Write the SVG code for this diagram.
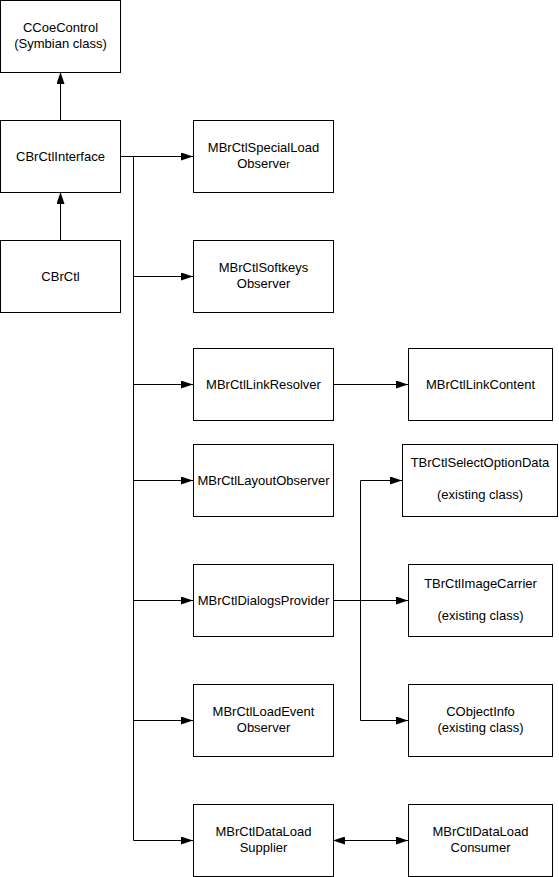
<svg xmlns="http://www.w3.org/2000/svg" width="559" height="877" viewBox="0 0 559 877">
<style>
.box{fill:#fff;stroke:#000;stroke-width:1}
.lbl{font-family:"Liberation Sans",Arial,sans-serif;font-size:13px;fill:#000;text-anchor:middle}
.ln{fill:none;stroke:#000;stroke-width:1}
</style>
<defs>
<marker id="ah" markerUnits="userSpaceOnUse" markerWidth="12" markerHeight="8" refX="12" refY="4" orient="auto-start-reverse">
<path d="M0,0 L12,4 L0,8 z" fill="#000"/>
</marker>
</defs>
<rect width="559" height="877" fill="#fff"/>
<g id="connectors">
<path class="ln" d="M60.5,121 V72" marker-end="url(#ah)"/>
<path class="ln" d="M60.5,241 V192" marker-end="url(#ah)"/>
<path class="ln" d="M120,156.5 H193" marker-end="url(#ah)"/>
<path class="ln" d="M133.5,156.5 V840.5 H193" marker-end="url(#ah)"/>
<path class="ln" d="M133.5,276.5 H193" marker-end="url(#ah)"/>
<path class="ln" d="M133.5,384.5 H193" marker-end="url(#ah)"/>
<path class="ln" d="M133.5,480.5 H193" marker-end="url(#ah)"/>
<path class="ln" d="M133.5,600.5 H193" marker-end="url(#ah)"/>
<path class="ln" d="M133.5,720.5 H193" marker-end="url(#ah)"/>
<path class="ln" d="M333,384.5 H408" marker-end="url(#ah)"/>
<path class="ln" d="M333,600.5 H408" marker-end="url(#ah)"/>
<path class="ln" d="M360.5,600.5 V480.5 H402" marker-end="url(#ah)"/>
<path class="ln" d="M360.5,600.5 V720.5 H408" marker-end="url(#ah)"/>
<path class="ln" d="M333,840.5 H408" marker-start="url(#ah)" marker-end="url(#ah)"/>
</g>
<g id="CCoeControl">
<rect class="box" x="0.5" y="0.5" width="120" height="72"/>
<text class="lbl" x="60.5" y="31.5">CCoeControl</text>
<text class="lbl" x="60.5" y="48">(Symbian class)</text>
</g>
<g id="CBrCtlInterface">
<rect class="box" x="0.5" y="120.5" width="120" height="72"/>
<text class="lbl" x="60.5" y="161">CBrCtlInterface</text>
</g>
<g id="CBrCtl">
<rect class="box" x="0.5" y="240.5" width="120" height="72"/>
<text class="lbl" x="60.5" y="281">CBrCtl</text>
</g>
<g id="MBrCtlSpecialLoadObserver">
<rect class="box" x="193.5" y="120.5" width="140" height="72"/>
<text class="lbl" x="263.5" y="152">MBrCtlSpecialLoad</text>
<text class="lbl" x="263.5" y="168">Observe<tspan font-size="10.5px">r</tspan></text>
</g>
<g id="MBrCtlSoftkeysObserver">
<rect class="box" x="193.5" y="240.5" width="140" height="72"/>
<text class="lbl" x="263.5" y="272">MBrCtlSoftkeys</text>
<text class="lbl" x="263.5" y="288">Observer</text>
</g>
<g id="MBrCtlLinkResolver">
<rect class="box" x="193.5" y="348.5" width="140" height="72"/>
<text class="lbl" x="263.5" y="389">MBrCtlLinkResolver</text>
</g>
<g id="MBrCtlLinkContent">
<rect class="box" x="408.5" y="348.5" width="144" height="72"/>
<text class="lbl" x="480.5" y="389">MBrCtlLinkContent</text>
</g>
<g id="MBrCtlLayoutObserver">
<rect class="box" x="193.5" y="444.5" width="140" height="72"/>
<text class="lbl" x="263.5" y="485">MBrCtlLayoutObserver</text>
</g>
<g id="TBrCtlSelectOptionData">
<rect class="box" x="402.5" y="444.5" width="155" height="72"/>
<text class="lbl" x="480" y="467">TBrCtlSelectOptionData</text>
<text class="lbl" x="480" y="499">(existing class)</text>
</g>
<g id="MBrCtlDialogsProvider">
<rect class="box" x="193.5" y="564.5" width="140" height="72"/>
<text class="lbl" x="263.5" y="605">MBrCtlDialogsProvider</text>
</g>
<g id="TBrCtlImageCarrier">
<rect class="box" x="408.5" y="564.5" width="144" height="72"/>
<text class="lbl" x="480.5" y="588">TBrCtlImageCarrier</text>
<text class="lbl" x="480.5" y="620">(existing class)</text>
</g>
<g id="MBrCtlLoadEventObserver">
<rect class="box" x="193.5" y="684.5" width="140" height="72"/>
<text class="lbl" x="263.5" y="716">MBrCtlLoadEvent</text>
<text class="lbl" x="263.5" y="732">Observer</text>
</g>
<g id="CObjectInfo">
<rect class="box" x="408.5" y="684.5" width="144" height="72"/>
<text class="lbl" x="480.5" y="716">CObjectInfo</text>
<text class="lbl" x="480.5" y="732">(existing class)</text>
</g>
<g id="MBrCtlDataLoadSupplier">
<rect class="box" x="193.5" y="804.5" width="140" height="72"/>
<text class="lbl" x="263.5" y="836">MBrCtlDataLoad</text>
<text class="lbl" x="263.5" y="852">Supplier</text>
</g>
<g id="MBrCtlDataLoadConsumer">
<rect class="box" x="408.5" y="804.5" width="144" height="72"/>
<text class="lbl" x="480.5" y="836">MBrCtlDataLoad</text>
<text class="lbl" x="480.5" y="852">Consumer</text>
</g>
</svg>
